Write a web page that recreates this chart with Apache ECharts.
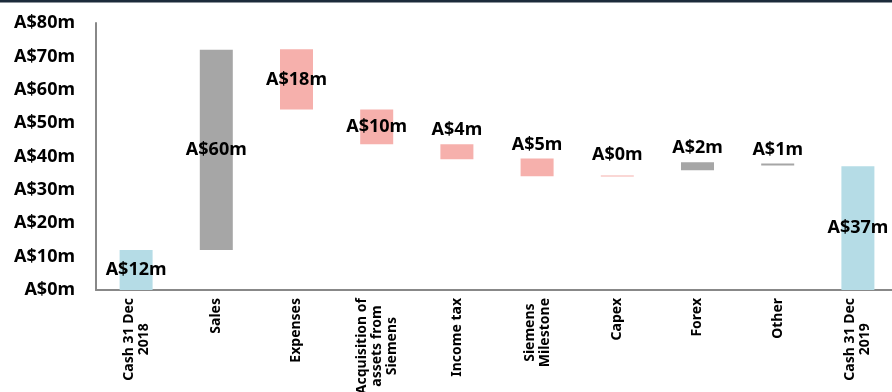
<!DOCTYPE html>
<html lang="en">
<head>
    <meta charset="UTF-8">
    <title>Cash bridge</title>
    <script src="https://cdn.jsdelivr.net/npm/echarts@6/dist/echarts.min.js"></script>
    <style>
        *{margin:0;padding:0;}
        body,html{width:100%;height:100%;overflow:hidden;background:#fff;}
        .box{width:892px;height:392px;}
    </style>
</head>
<body>
<div class="box"></div>
<script>
    let categories = ['Cash 31 Dec\n2018', 'Sales', 'Expenses', 'Acquisition of\nassets from\nSiemens', 'Income tax',
        'Siemens\nMilestone', 'Capex', 'Forex', 'Other', 'Cash 31 Dec\n2019'];
    // invisible base of each floating bar
    let bases = [0, 12, 54.1, 43.7, 39.2, 34.1, 34, 35.9, 37.3, 0];
    // visible part
    let values = [12, 60, 18, 10.4, 4.5, 5.3, 0.3, 2.4, 0.6, 37.1];
    let valueLabels = ['A$12m', 'A$60m', 'A$18m', 'A$10m', 'A$4m', 'A$5m', 'A$0m', 'A$2m', 'A$1m', 'A$37m'];
    let kinds = ['cash', 'up', 'down', 'down', 'down', 'down', 'down', 'up', 'up', 'cash'];
    let yTicks = [0, 10, 20, 30, 40, 50, 60, 70, 80];

    let colors = {cash: '#b5dce6', up: '#a6a6a6', down: '#f6b0ac'};
    let font = '"Noto Sans", sans-serif';

    let myChart = echarts.init(document.querySelector('.box'));

    let option = {
        animation: false,
        graphic: [{
            type: 'rect', left: 0, top: 0,
            shape: {width: 892, height: 2.5},
            style: {fill: '#1c2b3b'}
        }],
        grid: {left: 96, width: 802, top: 23, bottom: 102, outerBoundsMode: 'none', containLabel: false},
        xAxis: {
            type: 'category',
            data: categories,
            axisLine: {lineStyle: {color: '#888', width: 2}},
            axisTick: {show: false},
            axisLabel: {
                rotate: 90,
                interval: 0,
                margin: 8,
                fontFamily: font,
                fontWeight: 'bold',
                fontSize: 14,
                lineHeight: 15,
                color: '#000',
                // lines centred on each other, like the original
                formatter: v => v.split('\n').map(l => '{c|' + l + '}').join('\n'),
                rich: {
                    c: {
                        align: 'center',
                        fontFamily: font,
                        fontWeight: 'bold',
                        fontSize: 14,
                        lineHeight: 15,
                        color: '#000'
                    }
                }
            }
        },
        yAxis: {
            type: 'value',
            min: yTicks[0],
            max: yTicks[yTicks.length - 1],
            interval: 10,
            splitLine: {show: false},
            axisLine: {show: true, lineStyle: {color: '#888', width: 2}},
            axisTick: {show: false},
            axisLabel: {
                margin: 21,
                fontFamily: font,
                fontWeight: 'bold',
                fontSize: 18,
                color: '#000',
                formatter: v => 'A$' + v + 'm'
            }
        },
        series: [{
            type: 'bar',
            stack: 'w',
            barWidth: 33,
            silent: true,
            itemStyle: {color: 'transparent'},
            data: bases
        }, {
            type: 'bar',
            stack: 'w',
            barWidth: 33,
            data: values.map((v, i) => ({
                value: v,
                itemStyle: {color: colors[kinds[i]]},
                label: {
                    show: true,
                    position: v > 8 ? 'inside' : 'top',
                    distance: i === 6 ? 12 : 5,
                    formatter: valueLabels[i],
                    fontFamily: font,
                    fontWeight: 'bold',
                    fontSize: 18,
                    color: '#000'
                }
            }))
        }]
    };

    myChart.setOption(option);
</script>
</body>
</html>
